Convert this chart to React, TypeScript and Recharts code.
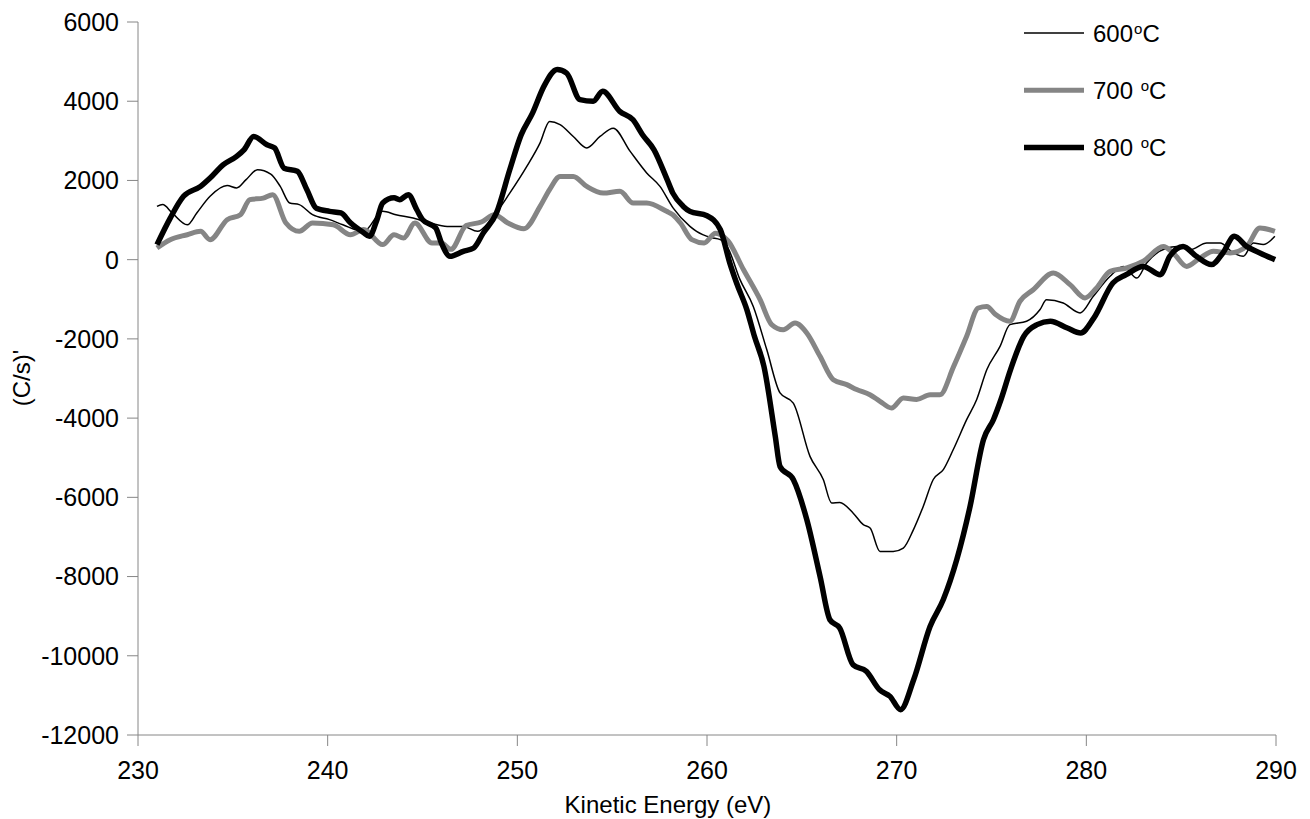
import { LineChart, Line, XAxis, YAxis, Legend } from "recharts";

const FONT = "'Liberation Sans', Arial, sans-serif";

// AES derivative spectra, kinetic energy (eV) vs (C/s)'
const energy600 = [
  231.0, 231.3, 231.8, 232.6, 233.1, 233.8, 234.7, 235.2, 235.7, 236.3, 237.0, 237.5,
  238.0, 238.5, 239.2, 240.1, 240.8, 241.9, 242.9, 243.6, 244.5, 245.4, 246.3, 247.15,
  247.9, 248.6, 249.6, 250.5, 251.2, 251.7, 252.25, 252.95, 253.66, 254.36, 255.06, 255.94,
  256.82, 257.52, 258.22, 259.1, 259.45, 260.2, 260.7, 261.1, 261.74, 262.44, 263.15, 263.85,
  264.55, 265.43, 266.13, 266.57, 267.0, 267.71, 268.24, 268.6, 269.12, 269.82, 270.35, 270.88,
  271.4, 271.93, 272.46, 272.98, 273.69, 274.22, 274.75, 275.45, 275.97, 276.85, 277.56, 277.9,
  278.78, 279.67, 280.37, 281.25, 281.95, 282.66, 283.18, 284.24, 284.77, 285.47, 286.35, 287.05,
  287.75, 288.28, 288.8, 289.33, 289.94,
];
const counts600 = [
  1345, 1390, 1180, 880, 1180, 1600, 1870, 1810, 2020, 2270, 2160, 1850,
  1430, 1390, 1135, 1010, 880, 715, 1220, 1135, 1050, 925, 840, 840,
  715, 1010, 1680, 2355, 2950, 3490, 3410, 3110, 2820, 3110, 3320, 2740,
  2190, 1850, 1300, 840, 715, 560, 505, 300, -505, -1180, -2270, -3365,
  -3620, -4965, -5550, -6140, -6130, -6400, -6690, -6775, -7365, -7365, -7280, -6820,
  -6230, -5550, -5300, -4800, -4040, -3530, -2780, -2190, -1640, -1555, -1260, -1010,
  -1095, -1345, -925, -420, -170, -465, -85, 295, 335, 250, 420, 420,
  170, 85, 420, 380, 590,
];

const energy700 = [
  231.0, 231.7, 232.6, 233.3, 233.8, 234.7, 235.4, 235.9, 236.6, 237.1, 237.8, 238.5,
  239.2, 240.3, 241.2, 241.9, 242.9, 243.5, 244.0, 244.6, 245.5, 246.0, 246.5, 247.3,
  248.1, 248.8, 249.5, 250.35, 251.2, 251.7, 252.25, 252.95, 253.66, 254.53, 255.41, 256.11,
  256.82, 257.87, 258.2, 258.6, 259.2, 259.85, 260.45, 261.1, 261.92, 262.8, 263.41, 264.02,
  264.64, 265.26, 265.96, 266.66, 267.37, 267.89, 268.59, 269.12, 269.73, 270.35, 271.05, 271.76,
  272.28, 273.0, 273.69, 274.3, 274.75, 275.2, 275.97, 276.5, 277.2, 278.26, 279.14, 279.93,
  280.54, 281.25, 282.13, 283.0, 284.06, 284.58, 285.29, 285.99, 286.7, 287.58, 288.45, 289.15,
  289.94,
];
const counts700 = [
  295, 505, 630, 715, 505, 1010, 1135, 1515, 1555, 1640, 925, 715,
  925, 880, 630, 760, 380, 630, 545, 925, 420, 420, 260, 860,
  950, 1135, 925, 780, 1345, 1770, 2100, 2100, 1850, 1680, 1725, 1430,
  1430, 1220, 1135, 925, 505, 420, 670, 480, -250, -1010, -1640, -1770,
  -1600, -1850, -2440, -3030, -3155, -3280, -3410, -3575, -3745, -3490, -3530, -3410,
  -3410, -2700, -1935, -1220, -1180, -1380, -1555, -1050, -760, -335, -630, -965,
  -715, -295, -210, -40, 335, 170, -170, 40, 210, 170, 335, 800,
  715,
];

const energy800 = [
  231.0, 231.7, 232.4, 233.3, 233.8, 234.5, 235.2, 235.6, 236.1, 236.8, 237.2, 237.7,
  238.4, 238.9, 239.4, 240.1, 240.7, 241.2, 241.9, 242.2, 242.6, 242.9, 243.5, 243.8,
  244.25, 244.7, 245.0, 245.7, 246.0, 246.45, 247.15, 247.7, 248.2, 248.9, 249.6, 250.2,
  250.8, 251.4, 252.1, 252.6, 253.3, 254.0, 254.5, 255.4, 256.1, 256.6, 257.2, 257.9,
  258.2, 258.75, 259.1, 260.0, 260.7, 261.2, 261.56, 262.1, 262.5, 263.0, 263.6, 263.85,
  264.55, 265.26, 265.96, 266.48, 267.0, 267.7, 268.4, 269.1, 269.65, 270.2, 270.9, 271.76,
  272.46, 273.17, 273.87, 274.58, 275.1, 275.5, 276.0, 276.7, 277.4, 278.1, 279.0, 279.7,
  280.4, 281.4, 282.1, 283.0, 283.9, 284.4, 285.1, 285.8, 286.6, 287.2, 287.8, 288.45,
  289.15, 289.95,
];
const counts800 = [
  380, 1050, 1600, 1850, 2060, 2400, 2610, 2780, 3110, 2900, 2820, 2310,
  2230, 1770, 1300, 1220, 1180, 930, 680, 590, 1010, 1430, 1560, 1515,
  1640, 1260, 1010, 800, 420, 85, 210, 295, 670, 1180, 2270, 3150,
  3700, 4375, 4800, 4710, 4040, 4000, 4250, 3745, 3530, 3155, 2780, 2020,
  1680, 1345, 1220, 1110, 760, -80, -590, -1260, -1935, -2690, -4460, -5220,
  -5550, -6560, -7995, -9090, -9300, -10225, -10390, -10860, -11025, -11360, -10600, -9260,
  -8580, -7570, -6230, -4540, -4040, -3530, -2780, -1935, -1640, -1555, -1725, -1850,
  -1470, -590, -380, -170, -380, 85, 335, 85, -125, 170, 590, 335,
  170, 0,
];

const xTicks = [230, 240, 250, 260, 270, 280, 290];
const yTicks = [-12000, -10000, -8000, -6000, -4000, -2000, 0, 2000, 4000, 6000];

const toPoints = (e: number[], v: number[]) => e.map((x, i) => ({ e: x, v: v[i] }));

const series = [
  { key: "600", label: "600", data: toPoints(energy600, counts600), color: "#000000", width: 1.5 },
  { key: "700", label: "700 ", data: toPoints(energy700, counts700), color: "#858585", width: 5 },
  { key: "800", label: "800 ", data: toPoints(energy800, counts800), color: "#000000", width: 5.5 },
];

const AXIS_COLOR = "#868686";
const TICK_STYLE = { fontSize: 25, fill: "#000", fontFamily: FONT };

function renderLegend() {
  return (
    <svg width={200} height={160}>
      {series.map((s, i) => {
        const cy = 23 + i * 57.3;
        return (
          <g key={s.key}>
            <line x1={14} x2={74} y1={cy} y2={cy} stroke={s.color} strokeWidth={s.width} />
            <text x={83} y={cy + 8.6} fontSize={24} fontFamily={FONT} fill="#000" xmlSpace="preserve">
              {s.label}
              <tspan fontSize={15} dx={1} dy={-8}>o</tspan>
              <tspan dy={8}>C</tspan>
            </text>
          </g>
        );
      })}
    </svg>
  );
}

const renderXTitle = () => (
  <text x={668} y={813} textAnchor="middle" fontSize={24} fontFamily={FONT} fill="#000">
    Kinetic Energy (eV)
  </text>
);

const renderYTitle = () => (
  <text
    x={21}
    y={378}
    textAnchor="middle"
    dominantBaseline="central"
    transform="rotate(-90, 21, 378)"
    fontSize={24}
    fontFamily={FONT}
    fill="#000"
  >
    (C/s)'
  </text>
);

export default function App() {
  return (
    <div style={{ width: 1310, height: 819, background: "#fff" }}>
      <style>{"body{margin:0}"}</style>
      <LineChart width={1310} height={819} margin={{ top: 22, right: 34, bottom: 0, left: 0 }}>
        <XAxis
          type="number"
          dataKey="e"
          domain={[230, 290]}
          ticks={xTicks}
          interval={0}
          height={84}
          stroke={AXIS_COLOR}
          tickSize={11}
          tickMargin={15}
          tick={TICK_STYLE}
          label={renderXTitle}
        />
        <YAxis
          type="number"
          domain={[-12000, 6000]}
          ticks={yTicks}
          interval={0}
          width={138}
          stroke={AXIS_COLOR}
          tickSize={11}
          tickMargin={8}
          tick={TICK_STYLE}
          label={renderYTitle}
        />
        <Legend
          layout="vertical"
          align="center"
          verticalAlign="middle"
          content={renderLegend}
          wrapperStyle={{ left: 1010, top: 10, width: 200, height: 160 }}
        />
        {series.map((s) => (
          <Line
            key={s.key}
            data={s.data}
            dataKey="v"
            type="monotone"
            stroke={s.color}
            strokeWidth={s.width}
            dot={false}
            activeDot={false}
            isAnimationActive={false}
            legendType="none"
          />
        ))}
      </LineChart>
    </div>
  );
}
